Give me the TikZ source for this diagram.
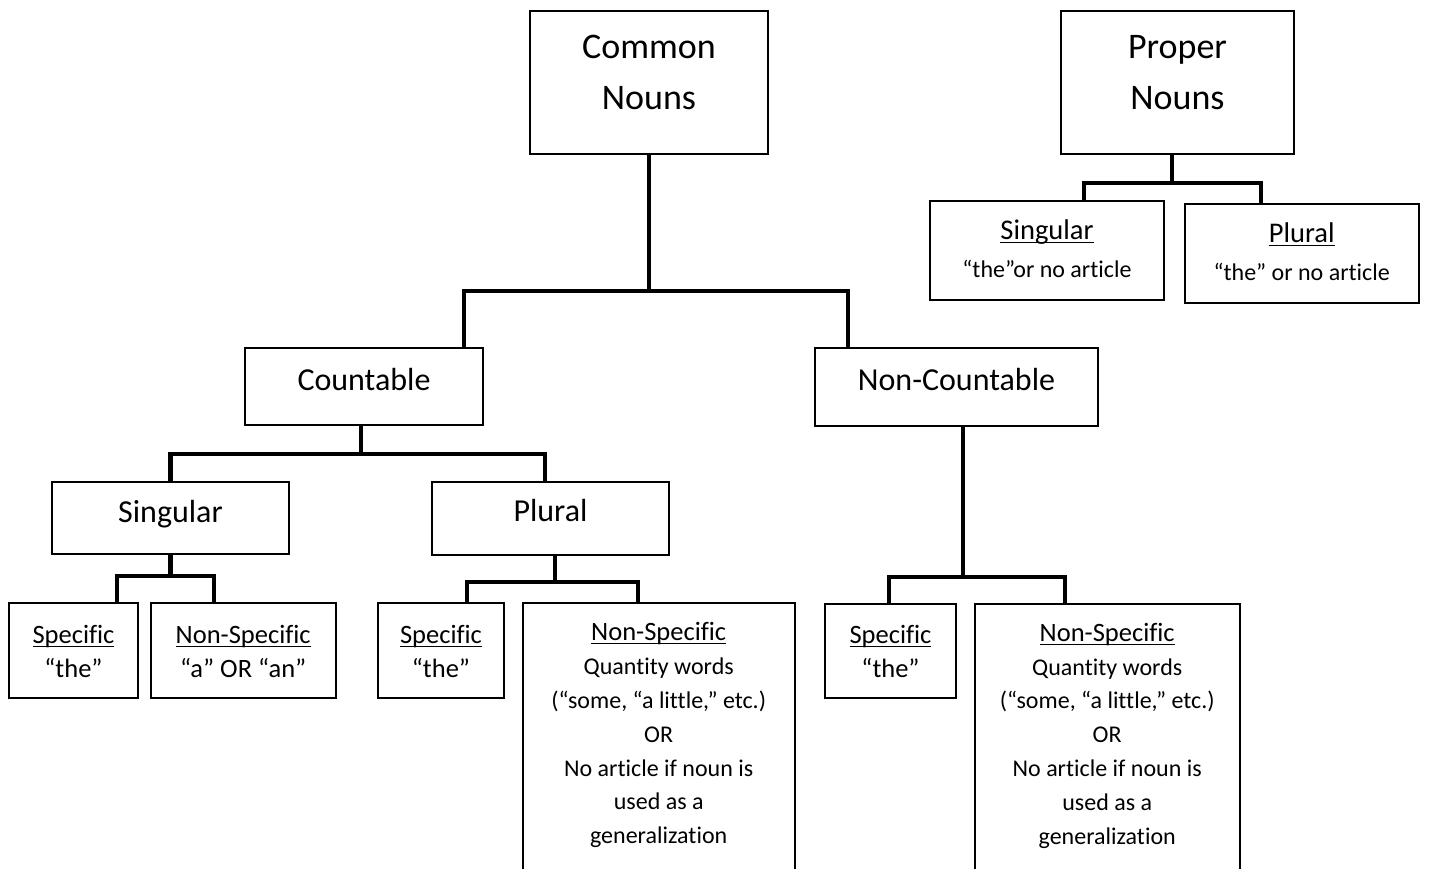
\documentclass[tikz,border=0pt]{standalone}
\usepackage{fontspec}
\setmainfont{Carlito}[Ligatures=CommonOff]
\usetikzlibrary{positioning}
\newcommand{\uword}[1]{\underline{\smash{#1}}}
\newcommand{\smtext}[1]{{\fontsize{12}{16.9}\selectfont #1}}
% text block, pushed up by half of #1
\newcommand{\lift}[2]{\raisebox{0pt}[\height][\dimexpr\depth+#1\relax]{\begin{tabular}{@{}c@{}}#2\end{tabular}}}

\begin{document}
\begin{tikzpicture}[x=0.5pt,y=-0.5pt,
  box/.style={draw,line width=0.85pt,inner sep=0pt},
  big/.style={box,font=\fontsize{18}{25.5}\selectfont},
  mid/.style={box,font=\fontsize{16}{20}\selectfont},
  small/.style={box,font=\fontsize{13.25}{16.9}\selectfont},
  prop/.style={box,font=\fontsize{14.25}{19}\selectfont},
  branch/.style={line width=2.2pt}]
\useasboundingbox (0,0) rectangle (1430,868);
\clip (0,0) rectangle (1430,868);

% top level
\node[big,minimum width=119pt,minimum height=71.5pt] (common) at (649,82.5) {\lift{9pt}{Common\\Nouns}};
\node[big,minimum width=116.5pt,minimum height=71.5pt] (proper) at (1177.5,82.5) {\lift{9pt}{Proper\\Nouns}};

% proper nouns
\node[prop,minimum width=117pt,minimum height=49.5pt] (psing) at (1047,250.5) {\lift{-0.5pt}{\uword{Singular}\\\smtext{“the”or no article}}};
\node[prop,minimum width=117pt,minimum height=49.5pt,right=9.5pt of psing,yshift=-1.5pt] (pplur) {\lift{-0.5pt}{\uword{Plural}\\\smtext{“the” or no article}}};

% common nouns
\node[mid,minimum width=119pt,minimum height=38.5pt] (countable) at (364,386.5) {\lift{4.5pt}{Countable}};
\node[mid,minimum width=141.5pt,minimum height=39pt] (noncount) at (956.5,387) {\lift{5pt}{Non-Countable}};
\node[mid,minimum width=118.5pt,minimum height=36pt] (sing) at (170.5,518) {\lift{4pt}{Singular}};
\node[mid,minimum width=118.5pt,minimum height=36.5pt] (plur) at (550.5,518.5) {\lift{5.5pt}{Plural}};

% leaves
\node[small,minimum width=64.5pt,minimum height=47.5pt] (cs_spec) at (73.5,650.5) {\lift{-3pt}{\uword{Specific}\\“the”}};
\node[small,minimum width=92.5pt,minimum height=47.5pt,right=5.5pt of cs_spec] (cs_nonspec) {\lift{-3pt}{\uword{Non-Specific}\\“a” OR “an”}};
\node[small,minimum width=63pt,minimum height=47.5pt] (ps_spec) at (441,650.5) {\lift{-3pt}{\uword{Specific}\\“the”}};
\node[small,minimum width=136pt,minimum height=148.5pt,right=8.5pt of ps_spec.north east,anchor=north west] (ps_nonspec) {\lift{16pt}{\uword{Non-Specific}\\\smtext{Quantity words}\\\smtext{(“some, “a little,” etc.)}\\\smtext{OR}\\\smtext{No article if noun is}\\\smtext{used as a}\\\smtext{generalization}}};
\node[small,minimum width=65.5pt,minimum height=47pt] (ns_spec) at (890.5,651) {\lift{-3pt}{\uword{Specific}\\“the”}};
\node[small,minimum width=132.5pt,minimum height=148pt,right=8.5pt of ns_spec.north east,anchor=north west] (ns_nonspec) {\lift{16pt}{\uword{Non-Specific}\\\smtext{Quantity words}\\\smtext{(“some, “a little,” etc.)}\\\smtext{OR}\\\smtext{No article if noun is}\\\smtext{used as a}\\\smtext{generalization}}};

% branches
\draw[branch] (common.south) -- ++(0,136) coordinate (cmn_j);
\draw[branch] ([xshift=50pt]countable.north) |- (cmn_j) -| ([xshift=-54.25pt]noncount.north);
\draw[branch] ([xshift=-1.5pt]countable.south) -- ++(0,28) coordinate (cnt_j);
\draw[branch] (sing.north) |- (cnt_j) -| ([xshift=-2.75pt]plur.north);
\draw[branch] (sing.south) -- ++(0,21) coordinate (sng_j);
\draw[branch] ([xshift=21.75pt]cs_spec.north) |- (sng_j) -| ([xshift=-14.75pt]cs_nonspec.north);
\draw[branch] ([xshift=2.25pt]plur.south) -- ++(0,26) coordinate (plr_j);
\draw[branch] ([xshift=13pt]ps_spec.north) |- (plr_j) -| ([xshift=-10.5pt]ps_nonspec.north);
\draw[branch] ([xshift=3.25pt]noncount.south) -- ++(0,150) coordinate (nct_j);
\draw[branch] ([xshift=-0.75pt]ns_spec.north) |- (nct_j) -| ([xshift=-21.25pt]ns_nonspec.north);
\draw[branch] ([xshift=-2.75pt]proper.south) -- ++(0,28) coordinate (prp_j);
\draw[branch] ([xshift=18.5pt]psing.north) |- (prp_j) -| ([xshift=-20.5pt]pplur.north);
\end{tikzpicture}
\end{document}
